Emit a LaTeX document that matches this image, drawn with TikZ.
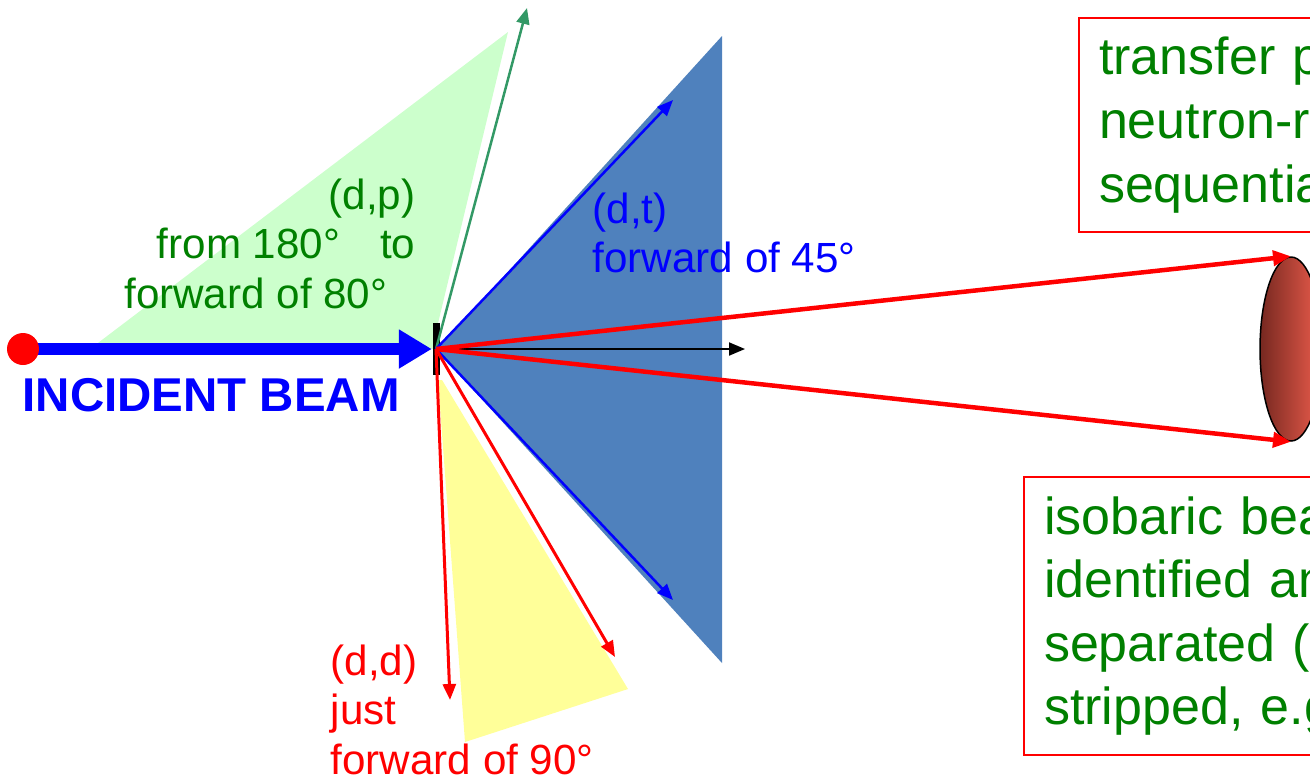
\documentclass[tikz,border=0pt]{standalone}
\usepackage{fontspec}
\setmainfont{Liberation Sans}
\usetikzlibrary{arrows.meta,shapes.geometric}
\definecolor{dgreen}{RGB}{0,128,0}
\definecolor{palegreen}{RGB}{204,255,204}
\definecolor{steel}{RGB}{79,129,189}
\definecolor{paleyellow}{RGB}{255,255,153}
\definecolor{seagreen}{RGB}{51,153,102}
\definecolor{detdark}{RGB}{118,40,32}
\definecolor{detlight}{RGB}{236,92,76}
\tikzset{
  lbl/.style={inner sep=0pt, align=left, font=\fontsize{12}{14.1}\selectfont},
  infobox/.style={draw=red, line width=0.2mm, anchor=north west, text=dgreen, align=left,
    text width=45mm, inner xsep=2mm, inner ysep=0pt, font=\fontsize{14.8}{18.1}\selectfont},
  ray/.style={line width=0.25mm, -{Triangle[length=1.6mm,width=1.3mm]}},
  bigray/.style={red, line width=0.45mm, -{Triangle[length=1.8mm,width=1.5mm]}},
}
\begin{document}
\begin{tikzpicture}[x=0.1mm, y=-0.1mm]
\useasboundingbox (0,0) rectangle (1310,778);
\clip (0,0) rectangle (1310,778);

\fill[palegreen] (90,349) -- (508,32) -- (434,340) -- (434,349) -- cycle;
\fill[steel] (437,350) -- (722,36) -- (722,663) -- cycle;
\fill[paleyellow] (438,380) -- (442,380) -- (628,689) -- (465,742) -- cycle;

\node[fill=black, minimum width=0.7mm, minimum height=5.2mm, inner sep=0pt] (tgt) at (436,349) {};
\node[ellipse, draw=black, line width=0.15mm, left color=detdark, right color=detlight,
  minimum width=6.2mm, minimum height=18.4mm, inner sep=0pt] (det) at (1291,349) {};

\coordinate (beamstart) at (8,349);
\coordinate (gtip) at (527,8);
\coordinate (tup) at (673,100);
\coordinate (tdown) at (673,600);
\coordinate (fwd) at (745,349);
\coordinate (dleft) at (450,700);
\coordinate (dright) at (615,657);

\draw[blue, line width=1.2mm, -{Triangle[length=3.3mm,width=3.7mm]}] (beamstart) -- (tgt.west);
\node[circle, fill=red, minimum size=3.2mm, inner sep=0pt] (src) at (23,349) {};

\draw[ray, seagreen] (tgt.center) -- (gtip);
\draw[ray, blue] (tgt.center) -- (tup);
\draw[ray, blue] (tgt.center) -- (tdown);
\draw[ray, black, line width=0.2mm] (tgt.center) -- (fwd);
\draw[ray, red, line width=0.3mm] (tgt.center) -- (dleft);
\draw[ray, red, line width=0.3mm] (tgt.center) -- (dright);
\draw[bigray] (tgt.center) -- (det.north);
\draw[bigray] (tgt.center) -- (det.south);

\node[lbl, text=dgreen, anchor=north east, align=right] (dp) at (416,178)
  {(d,p)\\from 180°\hspace{4mm}to\\forward of 80°\hspace{2.8mm}\mbox{}};
\node[lbl, text=blue, anchor=north west] (dt) at (592,192) {(d,t)\\forward of 45°};
\node[lbl, text=red, anchor=north west] (dd) at (330,644) {(d,d)\\just\\forward of 90°};
\node[inner sep=0pt, anchor=north west, text=blue, font=\bfseries\fontsize{13.5}{16}\selectfont]
  (beamlbl) at (22,378) {INCIDENT BEAM};

\node[infobox, minimum height=21.4mm] (transfer) at (1078,17) {transfer p\\neutron-r\\sequentia};
\node[infobox, minimum height=27.8mm] (isobar) at (1023,476) {isobaric bea\\identified an\\separated (\\stripped, e.g};
\end{tikzpicture}
\end{document}
